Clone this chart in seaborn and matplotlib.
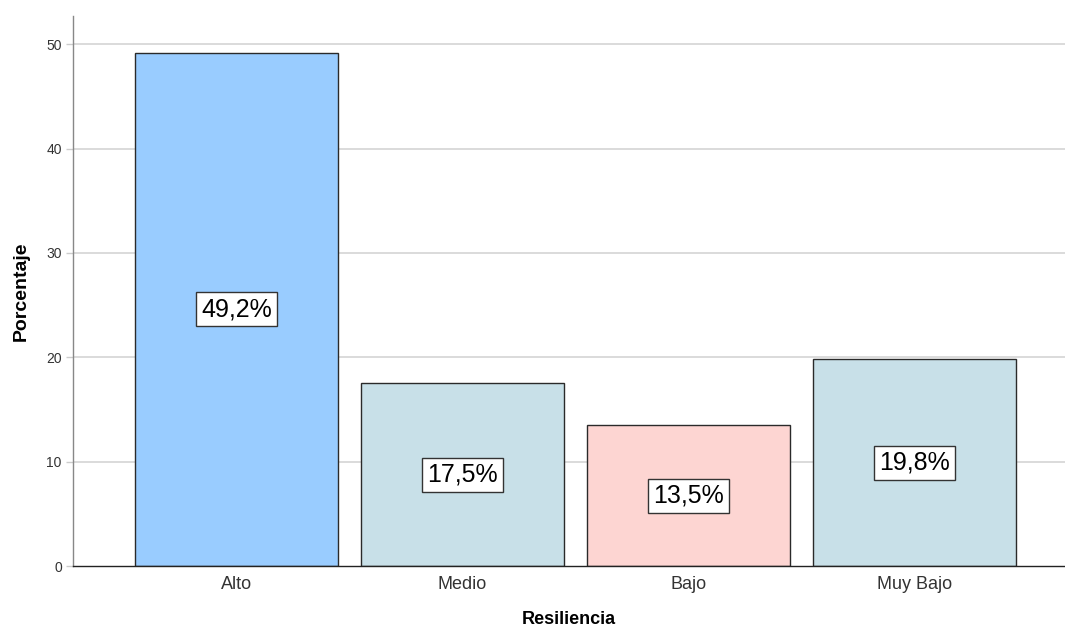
import matplotlib
matplotlib.use("Agg")
import matplotlib.pyplot as plt
import seaborn as sns
import pandas as pd

categorias = ["Alto", "Medio", "Bajo", "Muy Bajo"]
porcentajes = [49.2, 17.5, 13.5, 19.8]
etiquetas = ["49,2%", "17,5%", "13,5%", "19,8%"]
colores = ["#99CCFF", "#C8E0E8", "#FDD5D2", "#C8E0E8"]
ticks_y = [0, 10, 20, 30, 40, 50]

sns.set_theme(style="white")
plt.rcParams["font.family"] = ["Liberation Sans", "DejaVu Sans"]

df = pd.DataFrame({"Resiliencia": categorias, "Porcentaje": porcentajes})

fig = plt.figure(figsize=(10.65, 6.39), dpi=100)
ax = fig.add_axes([0.0685, 0.1142, 0.9315, 0.8608])

sns.barplot(data=df, x="Resiliencia", y="Porcentaje", hue="Resiliencia",
            palette=colores, legend=False, width=0.898, ax=ax,
            edgecolor="#2a2a2a", linewidth=1.0, saturation=1, zorder=3)

ax.set_xlim(-0.723, 3.666)
ax.set_ylim(0, 52.7)
ax.set_yticks(ticks_y)
ax.set_yticklabels([str(t) for t in ticks_y], fontsize=10, color="#333333")
ax.tick_params(axis="x", labelsize=13, labelcolor="#333333", length=0, pad=7)
ax.tick_params(axis="y", length=5, width=1, color="#cccccc", pad=3, left=True)

for t in ticks_y[1:]:
    ax.axhline(t, color="#d4d4d4", linewidth=1.2, zorder=1)

for s in ["top", "right"]:
    ax.spines[s].set_visible(False)
ax.spines["left"].set_color("#888888")
ax.spines["left"].set_linewidth(1.0)
ax.spines["bottom"].set_color("#222222")
ax.spines["bottom"].set_linewidth(1.0)
ax.spines["bottom"].set_zorder(5)

for i, (v, txt) in enumerate(zip(porcentajes, etiquetas)):
    ax.text(i, v / 2, txt, ha="center", va="center", fontsize=18, color="black",
            zorder=6,
            bbox=dict(boxstyle="square,pad=0.2", facecolor="white",
                      edgecolor="#333333", linewidth=1.0))

ax.set_xlabel("Resiliencia", fontsize=13, fontweight="bold", color="black", labelpad=13)
ax.set_ylabel("Porcentaje", fontsize=14, fontweight="bold", color="black", labelpad=12)

fig.savefig("out.png", dpi=100, facecolor="white")
